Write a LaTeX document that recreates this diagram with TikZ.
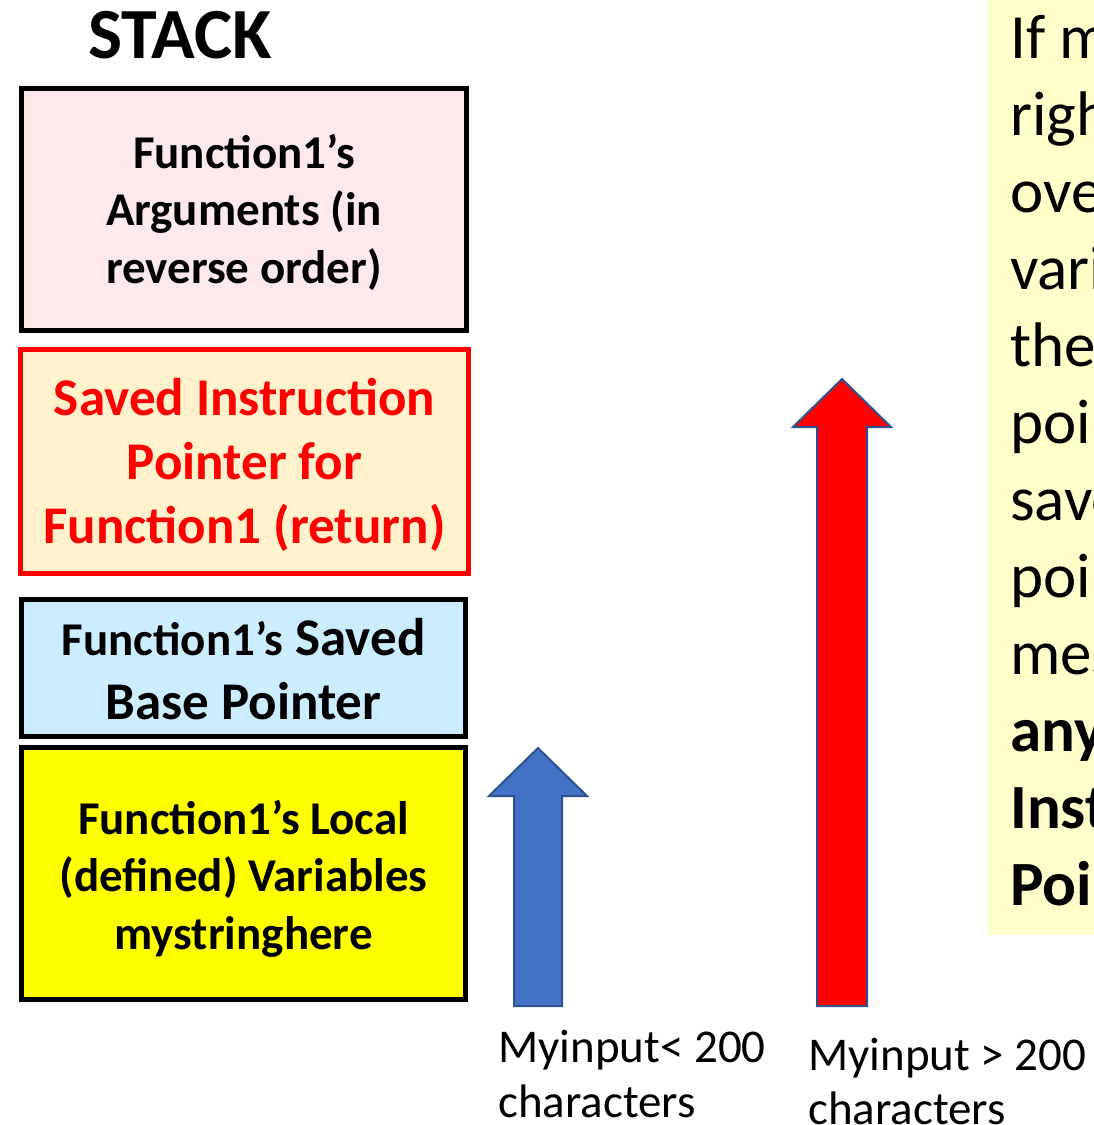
\documentclass[tikz,border=0pt]{standalone}
\usepackage{fontspec}
\setmainfont{Carlito}
\definecolor{argfill}{HTML}{FDE9EA}
\definecolor{ipfill}{HTML}{FFF2CC}
\definecolor{bpfill}{HTML}{CCECFF}
\definecolor{locfill}{HTML}{FFFF00}
\definecolor{notefill}{HTML}{FFFFCC}
\definecolor{arrblue}{HTML}{4472C4}
\definecolor{arredge}{HTML}{2F528F}
\definecolor{ipred}{HTML}{FF0000}
\tikzset{
  frame/.style={draw=black, line width=5pt, rectangle, inner sep=0pt},
  boxtext/.style={font=\fontsize{47}{57.5}\selectfont\bfseries, align=center, inner sep=0pt},
  bigtext/.style={font=\fontsize{53}{64}\selectfont\bfseries, align=center, inner sep=0pt},
  blockarrow/.style={draw=arredge, line width=2pt, line join=miter},
  caption/.style={font=\fontsize{47}{55}\selectfont, anchor=base west, inner sep=0pt},
  noteline/.style={font=\fontsize{63}{77}\selectfont, anchor=base west, inner sep=0pt},
  notebold/.style={noteline, font=\fontsize{63}{77}\selectfont\bfseries},
}
\begin{document}
\begin{tikzpicture}[x=1pt, y=-1pt]
\useasboundingbox (0,0) rectangle (1094,1125);
\begin{scope}
\clip (0,0) rectangle (1094,1125);

% title
\node[font=\fontsize{72}{72}\selectfont\bfseries, inner sep=0pt] (title) at (180,35) {STACK};

% stack frames, top to bottom, each with its label
\node[frame, fill=argfill, minimum width=445pt, minimum height=242pt] (args) at (244,209.5) {};
\node[boxtext] (argstext) at (244,212) {Function1’s\\Arguments (in\\reverse order)};

\node[frame, draw=ipred, line width=5.5pt, fill=ipfill,
  minimum width=448pt, minimum height=224pt] (retip) at (244.5,461.5) {};
\node[bigtext, text=ipred] (retiptext) at (244.5,464.5)
  {Saved Instruction\\Pointer for\\Function1 (return)};

\node[frame, fill=bpfill, minimum width=444pt, minimum height=137pt] (savedbp) at (243.5,667.5) {};
\node[bigtext] (savedbptext) at (243.5,669)
  {{\fontsize{47}{64}\selectfont Function1’s} Saved\\Base Pointer};

\node[frame, fill=locfill, minimum width=444pt, minimum height=252pt] (locals) at (243.5,873.5) {};
\node[boxtext] (localstext) at (243.5,878.5)
  {Function1’s Local\\(defined) Variables\\mystringhere};

% growth arrows for short and long input
\draw[blockarrow, fill=arrblue]
  (514,1006) -- (514,796) -- (489,796) -- (538,748) -- (587,796) -- (562,796) -- (562,1006) -- cycle;
\draw[blockarrow, fill=ipred]
  (817,1006) -- (817,427) -- (793,427) -- (842,379) -- (891,427) -- (867,427) -- (867,1006) -- cycle;

% captions under the arrows
\node[caption] (shortcap1) at (498,1062) {Myinput< 200};
\node[caption] (shortcap2) at (498,1117) {characters};
\node[caption] (longcap1) at (808,1070) {Myinput > 200};
\node[caption] (longcap2) at (808,1124) {characters};

% explanation panel on the right edge
\fill[notefill] (988,0) rectangle (1100,935);
\node[noteline] (n1) at (1010,58) {If m};
\node[noteline] (n2) at (1010,135) {righ};
\node[noteline] (n3) at (1010,212) {ove};
\node[noteline] (n4) at (1010,289) {vari};
\node[noteline] (n5) at (1010,366) {the};
\node[noteline] (n6) at (1010,443) {poi};
\node[noteline] (n7) at (1010,520) {save};
\node[noteline] (n8) at (1010,597) {poi};
\node[noteline] (n9) at (1010,674) {mes};
\node[notebold] (n10) at (1010,751) {any};
\node[notebold] (n11) at (1010,828) {Inst};
\node[notebold] (n12) at (1010,905) {Poi};
\end{scope}
\end{tikzpicture}
\end{document}
